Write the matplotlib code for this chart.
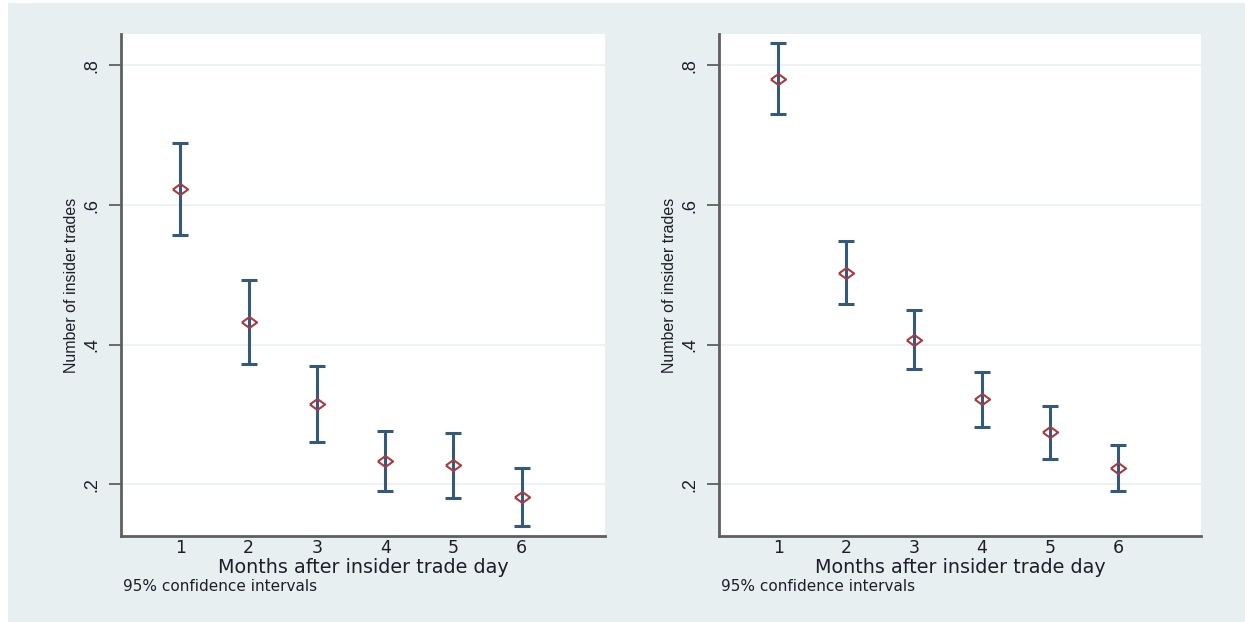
import numpy as np
import matplotlib.pyplot as plt
from matplotlib.patches import Rectangle

months = [1, 2, 3, 4, 5, 6]

left_mean = [0.623, 0.432, 0.315, 0.234, 0.227, 0.182]
left_hi = [0.689, 0.493, 0.369, 0.277, 0.273, 0.224]
left_lo = [0.557, 0.372, 0.261, 0.191, 0.181, 0.140]

right_mean = [0.781, 0.503, 0.407, 0.322, 0.275, 0.223]
right_hi = [0.832, 0.549, 0.449, 0.361, 0.312, 0.257]
right_lo = [0.731, 0.458, 0.365, 0.282, 0.237, 0.190]

yticks = [0.2, 0.4, 0.6, 0.8]
ytick_labels = ['.2', '.4', '.6', '.8']

BG = '#e8eff1'
BAR = '#34597b'
MARK = '#a83a40'
SPINE = '#5f5f5f'
TXT = '#1e1e2a'

# wide diamond, like the stata hollow diamond after stretching
DIAMOND = [(-1, 0), (0, 0.72), (1, 0), (0, -0.72), (-1, 0)]

plt.rcParams['font.family'] = ['DejaVu Sans']

fig = plt.figure(figsize=(12.45, 6.22), dpi=100, facecolor='white')
fig.patches.append(Rectangle((8 / 1245, 0), 1 - 8 / 1245, 1 - 3 / 622,
                             transform=fig.transFigure, facecolor=BG,
                             edgecolor='none', zorder=-10))


def panel(rect, mean, lo, hi):
    ax = fig.add_axes(rect)
    ax.set_facecolor('white')
    mean = np.array(mean)
    err = [mean - np.array(lo), np.array(hi) - mean]
    ax.errorbar(months, mean, yerr=err, fmt='none', ecolor=BAR,
                elinewidth=2.2, capsize=6, capthick=2.2, zorder=3)
    ax.plot(months, mean, linestyle='none', marker=DIAMOND, markersize=11,
            markerfacecolor='none', markeredgecolor=MARK,
            markeredgewidth=1.5, zorder=4)
    ax.set_xlim(0.13, 7.22)
    ax.set_ylim(0.126, 0.845)
    ax.set_yticks(yticks)
    ax.set_yticklabels(ytick_labels, rotation=90, va='center',
                       fontsize=13, color=TXT,
                       family=['Liberation Sans', 'DejaVu Sans'])
    ax.set_xticks(months)
    ax.set_xticklabels([str(m) for m in months], fontsize=12.5, color=TXT)
    ax.tick_params(axis='x', length=0, pad=2)
    ax.tick_params(axis='y', length=9, width=1.3, color=SPINE, pad=6)
    ax.grid(axis='y', color='#edf3f4', linewidth=1.4)
    ax.set_axisbelow(True)
    for s in ['top', 'right']:
        ax.spines[s].set_visible(False)
    for s in ['left', 'bottom']:
        ax.spines[s].set_color(SPINE)
        ax.spines[s].set_linewidth(2)
    ax.set_ylabel('Number of insider trades',
                  family=['Liberation Sans', 'DejaVu Sans'],
                  fontsize=11.5, color=TXT, labelpad=3)
    ax.set_xlabel('Months after insider trade day', fontsize=13.8,
                  color=TXT, va='center')
    ax.xaxis.set_label_coords(0.5, -0.062)
    ax.text(0.005, -0.101, '95% confidence intervals', transform=ax.transAxes,
            fontsize=11, color=TXT, ha='left', va='center')
    return ax


panel([121 / 1245, 86 / 622, 484 / 1245, 502 / 622],
      left_mean, left_lo, left_hi)
panel([719 / 1245, 86 / 622, 482 / 1245, 502 / 622],
      right_mean, right_lo, right_hi)

fig.savefig('out.png', dpi=100, facecolor=fig.get_facecolor())
